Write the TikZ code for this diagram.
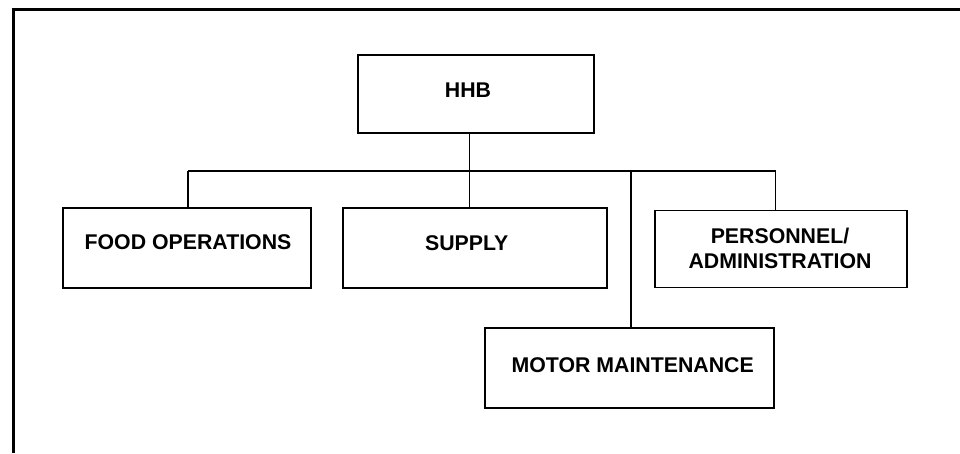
\documentclass[tikz,border=0pt]{standalone}
\usepackage{fontspec}
\setmainfont{Liberation Sans}
\begin{document}
\begin{tikzpicture}[x=1pt,y=-1pt,
  unit/.style={draw=black, line width=1.7pt, rectangle, inner sep=0pt},
  caption/.style={inner sep=0pt, align=center,
    font=\fontsize{21.3}{25}\selectfont\bfseries},
  link/.style={draw=black, line width=1.3pt}]
\useasboundingbox (0,0) rectangle (960,453);
% page frame
\draw[line width=3pt] (13,453) -- (13,9) -- (960,9);

% unit boxes
\node[unit, minimum width=236pt, minimum height=78pt] (hhb) at (476,94) {};
\node[unit, minimum width=248pt, minimum height=80pt] (food) at (186.7,248) {};
\node[unit, minimum width=264pt, minimum height=80pt] (supply) at (474.7,248.3) {};
\node[unit, minimum width=252pt, minimum height=77pt] (pers) at (781,249) {};
\node[unit, minimum width=289pt, minimum height=80pt] (motor) at (629.8,368) {};

% unit names
\node[caption] (hhbname) at (468,90) {HHB};
\node[caption] (foodname) at (188,242) {FOOD OPERATIONS};
\node[caption] (supplyname) at (466.7,243) {SUPPLY};
\node[caption] (persname) at (780,248.5) {PERSONNEL/\\ADMINISTRATION};
\node[caption] (motorname) at (632.7,365) {MOTOR MAINTENANCE};

% bus line and drops
\coordinate (trunk) at (469.5,171);
\coordinate (busL) at (188,171);
\coordinate (busM) at (631,171);
\coordinate (busR) at (775.7,171);
\draw[link] (busL) -- (busR);
\draw[link] (trunk |- hhb.south) -- (trunk |- supply.north);
\draw[link] (busL) -- (busL |- food.north);
\draw[link] (busM) -- (busM |- motor.north);
\draw[link] (busR) -- (busR |- pers.north);
\end{tikzpicture}
\end{document}
